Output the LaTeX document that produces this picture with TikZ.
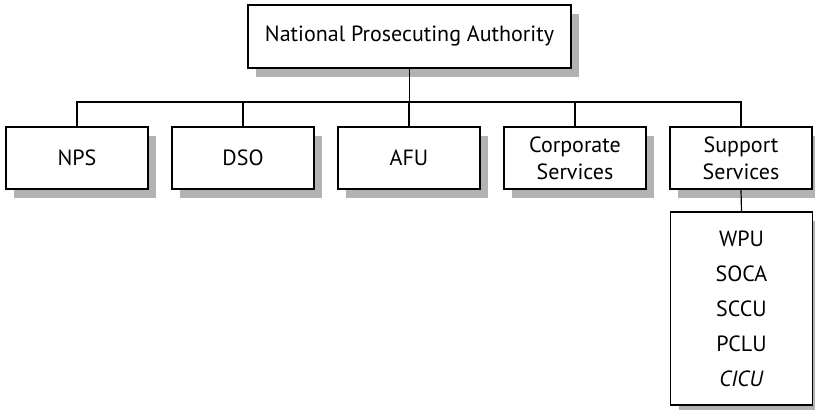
\documentclass[tikz,border=0pt]{standalone}
\usepackage{fontspec}
\setmainfont{PT Sans}
\usetikzlibrary{shadows}

\begin{document}
\begin{tikzpicture}[x=0.5pt, y=-0.5pt,
    unit/.style={draw, semithick, fill=white, align=center, inner sep=2pt,
        minimum width=71pt, minimum height=31pt, font=\fontsize{11}{13.5}\selectfont,
        drop shadow={shadow xshift=4pt, shadow yshift=-4.5pt, fill=black!30, opacity=1}},
    link/.style={semithick}]
    \useasboundingbox (0,0) rectangle (815,409);

    \node[unit, minimum width=161.5pt, minimum height=31.5pt] (npa) at (409.5,36.5) {National Prosecuting Authority};

    \node[unit] (nps) at (77,158) {NPS};
    \node[unit] (dso) at (243,158) {DSO};
    \node[unit] (afu) at (409,158) {AFU};
    \node[unit] (corp) at (575,158) {Corporate\\Services};
    \node[unit] (supp) at (741,158) {Support\\Services};

    \node[unit, minimum height=96.5pt, font=\fontsize{11}{17.5}\selectfont] (units) at (741.5,308.5)
        {WPU\\SOCA\\SCCU\\PCLU\\\textit{CICU}};

    % bus line
    \coordinate (bus) at (409.5,102);
    \draw[link] (npa.south) -- (bus);
    \foreach \n in {nps,dso,afu,corp,supp}
        \draw[link] (\n.north) |- (bus);
    \draw[link] (supp.south) -- (units.north);
\end{tikzpicture}
\end{document}
